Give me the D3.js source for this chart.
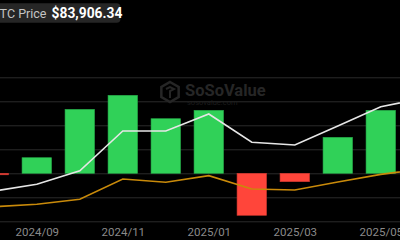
<!DOCTYPE html>
<html><head><meta charset="utf-8">
<script src="https://cdn.jsdelivr.net/npm/d3@7/dist/d3.min.js"></script>
<style>html,body{margin:0;padding:0;background:#000;overflow:hidden}svg{display:block}</style>
</head><body>
<svg id="c" width="400" height="240"></svg>
<script>
const months = ["2024/08","2024/09","2024/10","2024/11","2024/12","2025/01","2025/02","2025/03","2025/04","2025/05","2025/06"];
const netInflow = [-0.12, 1.3, 5.33, 6.5, 4.55, 5.25, -3.5, -0.7, 3.0, 5.25, null]; // B USD
const priceLine = [21.0, 25.7, 35.1, 62.7, 62.7, 74.5, 54.9, 53.0, 66.2, 79.6, 85.6];
const assetLine = [10.1, 11.8, 15.3, 29.4, 27.1, 31.7, 22.4, 21.7, 27.3, 32.6, 36.5];
const tickLabels = ["2024/09","2024/11","2025/01","2025/03","2025/05"];
const gridTicks = [-4,-2,0,2,4,6,8];

const svg = d3.select("#c");
const W = 400, H = 240;
const step = 43;
const x = d3.scalePoint().domain(months).range([-6.2, -6.2 + step*(months.length-1)]);
const y = d3.scaleLinear().domain([-4, 8]).range([221.3, 77.3]);
const yR = d3.scaleLinear().domain([0, 100]).range([221.3, 77.3]);
const barW = 29.5;

// grid
const g = svg.append("g").call(d3.axisLeft(y).tickValues(gridTicks).tickSize(-W*2).tickFormat(""));
g.select(".domain").remove();
g.selectAll(".tick line").attr("stroke", "#2b2b2b").attr("stroke-width", 1);

// watermark
const wm = svg.append("g").attr("fill", "none");
const cx = 170, cy = 92, r = 10;
const hex = d3.range(6).map(i => { const a = Math.PI/3*i - Math.PI/2; return [cx + r*Math.cos(a), cy + r*Math.sin(a)]; });
wm.append("path").attr("d", "M" + hex.join("L") + "Z").attr("stroke", "#262626").attr("stroke-width", 2.5);
wm.append("path").attr("d", `M${cx-4},${cy-3}L${cx},${cy-5}L${cx+4},${cy-3}L${cx},${cy-1}L${cx},${cy+6}`).attr("stroke", "#262626").attr("stroke-width", 2);
svg.append("text").attr("x", 185).attr("y", 95.5).text("SoSoValue")
  .attr("font-family", "Roboto, sans-serif").attr("font-weight", "bold").attr("font-size", 16.5).attr("fill", "#262626");
svg.append("text").attr("x", 187).attr("y", 104.5).text("sosovalue.com")
  .attr("font-family", "Roboto, sans-serif").attr("font-size", 7.5).attr("fill", "#1e1e1e");

// bars
svg.append("g").selectAll("rect").data(months.map((m,i)=>({m, v: netInflow[i]})).filter(d => d.v !== null))
  .join("rect")
  .attr("x", d => x(d.m) - barW/2)
  .attr("width", barW)
  .attr("y", d => y(Math.max(0, d.v)))
  .attr("height", d => Math.max(1.5, Math.abs(y(d.v) - y(0))))
  .attr("fill", d => d.v >= 0 ? "#30d158" : "#ff453a")
  .attr("stroke", d => d.v >= 0 ? "#25a848" : "#cc3830")
  .attr("stroke-width", 0.6);

// lines
const line = d3.line().x((d,i) => x(months[i])).y(d => yR(d));
svg.append("path").datum(assetLine).attr("d", line).attr("fill", "none").attr("stroke", "#c98a0a").attr("stroke-width", 1.6);
svg.append("path").datum(priceLine).attr("d", line).attr("fill", "none").attr("stroke", "#e6e6e6").attr("stroke-width", 1.6);

// x axis
const xa = svg.append("g").attr("transform", "translate(0,224)")
  .call(d3.axisBottom(x).tickValues(tickLabels).tickSize(0).tickPadding(0));
xa.select(".domain").remove();
xa.selectAll("text").attr("dy", "0").attr("y", 11.5).attr("fill", "#8a8a8a")
  .attr("font-family", "Roboto, sans-serif").attr("font-size", 11.5);

// price label box
svg.append("rect").attr("x", -10).attr("y", 3.3).attr("width", 130.5).attr("height", 19.4).attr("rx", 4).attr("fill", "#262626");
const t = svg.append("text").attr("x", -8).attr("y", 17.5).attr("font-family", "Roboto, sans-serif");
t.append("tspan").text("BTC Price ").attr("fill", "#c4c4c4").attr("font-size", 12.5);
t.append("tspan").text("$83,906.34").attr("fill", "#ffffff").attr("font-weight", "bold").attr("font-size", 13.8).attr("dx", 2);
</script>
</body></html>
